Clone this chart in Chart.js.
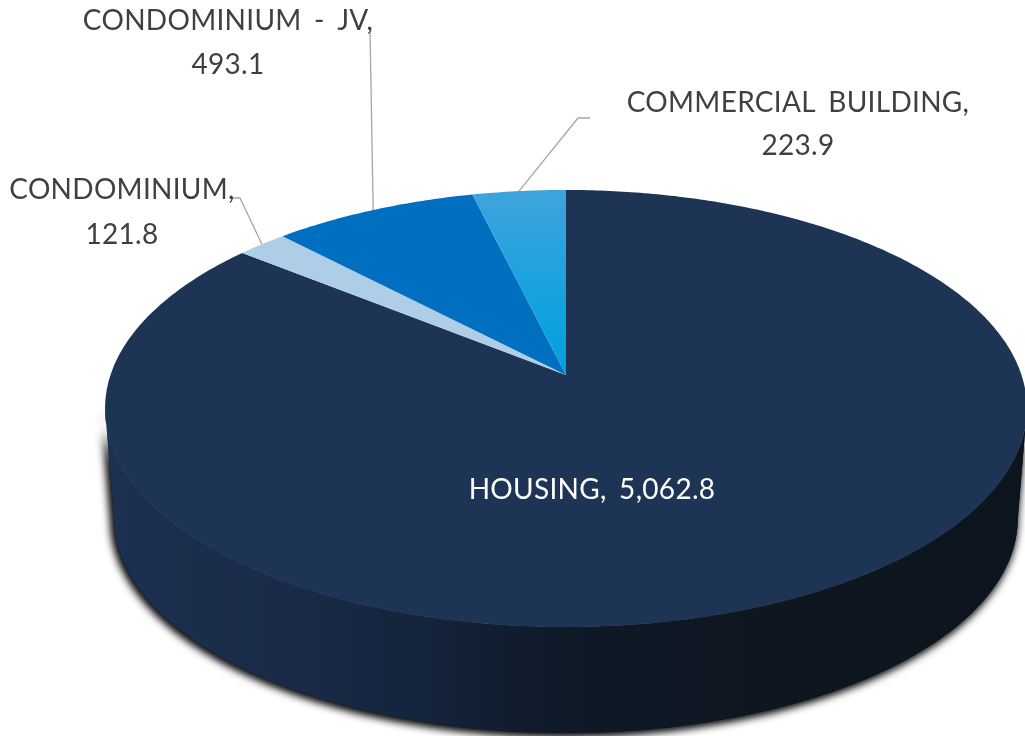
<!DOCTYPE html>
<html>
<head>
<meta charset="utf-8">
<style>
  html, body { margin: 0; padding: 0; background: #fff; overflow: hidden; }
  #wrap { width: 1025px; height: 736px; }
</style>
<script src="https://cdn.jsdelivr.net/npm/chart.js@4"></script>
</head>
<body>
<div id="wrap"><canvas id="chart" width="1025" height="736"></canvas></div>
<script>
// ======= Data =======
const categories = ["HOUSING", "CONDOMINIUM", "CONDOMINIUM - JV", "COMMERCIAL BUILDING"];
const values = [5062.8, 121.8, 493.1, 223.9];
const valueLabels = ["5,062.8", "121.8", "493.1", "223.9"];
const sliceColors = ["#1e3455", "#aecde6", "#006fc0", "#2fa3dc"];

// ======= Tilted disc: unit circle -> screen =======
const apexX = 566, apexY = 375;
const radX = 455.5, radY = 213.4, tilt = -0.1533;
const wallScale = 0.98, wallApexY = 486;

function project(angle, scale, cy) {
  const u = Math.cos(angle), v = Math.sin(angle);
  const d = 1 + tilt * v;
  return { x: apexX + scale * radX * u / d, y: cy + scale * radY * v / d };
}

function sideWall(ctx) {
  const grad = ctx.createLinearGradient(105, 0, 1027, 0);
  grad.addColorStop(0, "#1c3050");
  grad.addColorStop(0.2, "#192b48");
  grad.addColorStop(0.36, "#14233a");
  grad.addColorStop(0.5, "#0f1927");
  grad.addColorStop(0.75, "#0e1620");
  grad.addColorStop(1, "#0c141d");

  // find left and right extremes of the outline
  const n = 360;
  let left = 0, right = 0;
  const top = [];
  for (let i = 0; i < n; i++) {
    const p = project(i / n * Math.PI * 2, 1, apexY);
    top.push(p);
    if (p.x < top[left].x) left = i;
    if (p.x > top[right].x) right = i;
  }

  ctx.save();
  ctx.beginPath();
  // front half of the top edge, then back along the front of the bottom edge
  for (let i = left; i >= right; i--) {
    const p = top[(i + n) % n];
    if (i === left) ctx.moveTo(p.x, p.y); else ctx.lineTo(p.x, p.y);
  }
  for (let i = right; i <= left; i++) {
    const p = project(i / n * Math.PI * 2, wallScale, wallApexY);
    ctx.lineTo(p.x, p.y);
  }
  ctx.closePath();
  ctx.shadowColor = "rgba(0,0,0,0.9)";
  ctx.shadowBlur = 10;
  ctx.shadowOffsetX = -2;
  ctx.shadowOffsetY = 2;
  ctx.fillStyle = grad;
  // twice, one pass leaves the shadow too faint
  ctx.fill();
  ctx.fill();
  ctx.restore();
}

function drawSlice(ctx, arc, color) {
  ctx.beginPath();
  ctx.moveTo(apexX, apexY);
  const steps = Math.max(4, Math.ceil((arc.endAngle - arc.startAngle) * 90));
  for (let i = 0; i <= steps; i++) {
    const a = arc.startAngle + (arc.endAngle - arc.startAngle) * i / steps;
    const p = project(a, 1, apexY);
    ctx.lineTo(p.x, p.y);
  }
  ctx.closePath();
  ctx.fillStyle = color;
  ctx.fill();
}

// ======= Labels (positions only, text comes from the arrays) =======
const labelSpots = [
  { lines: [[592, 499]], color: "#ffffff" },
  { lines: [[122, 199], [122, 244]], leader: [[232, 198], [240, 198]] },
  { lines: [[228, 30], [228, 74]], leader: [[370, 30]] },
  { lines: [[798, 112], [798, 155]], leader: [[590, 118], [578, 118]] }
];

function drawLabels(chart, arcs) {
  const ctx = chart.ctx;
  ctx.save();
  ctx.font = '400 28px Lato';
  ctx.letterSpacing = "0.3px";
  ctx.wordSpacing = "5px";
  ctx.textAlign = "center";
  ctx.textBaseline = "alphabetic";
  labelSpots.forEach((spot, i) => {
    if (spot.leader) {
      const mid = project((arcs[i].startAngle + arcs[i].endAngle) / 2, 1, apexY);
      ctx.beginPath();
      spot.leader.forEach((pt, j) => {
        if (j === 0) ctx.moveTo(pt[0], pt[1]); else ctx.lineTo(pt[0], pt[1]);
      });
      ctx.lineTo(mid.x, mid.y);
      ctx.strokeStyle = "#a6a6a6";
      ctx.lineWidth = 1.3;
      ctx.stroke();
    }
    ctx.fillStyle = spot.color || "#404040";
    if (spot.lines.length === 1) {
      ctx.fillText(categories[i] + ", " + valueLabels[i], spot.lines[0][0], spot.lines[0][1]);
    } else {
      ctx.fillText(categories[i] + ",", spot.lines[0][0], spot.lines[0][1]);
      ctx.fillText(valueLabels[i], spot.lines[1][0], spot.lines[1][1]);
    }
  });
  ctx.restore();
}

// ======= Chart =======
const tiltedPie = {
  id: "tiltedPie",
  beforeDatasetsDraw(chart) {
    const ctx = chart.ctx;
    const arcs = chart.getDatasetMeta(0).data;
    sideWall(ctx);
    arcs.forEach((arc, i) => {
      let color = sliceColors[i];
      if (i === 3) {
        const g = ctx.createLinearGradient(0, 190, 0, 375);
        g.addColorStop(0, "#3fa3dc");
        g.addColorStop(0.6, "#14a2df");
        g.addColorStop(1, "#00a0e0");
        color = g;
      }
      drawSlice(ctx, arc, color);
    });
    drawLabels(chart, arcs);
    return false; // the disc replaces the flat pie
  }
};

new Chart(document.getElementById("chart"), {
  type: "pie",
  data: {
    labels: categories,
    datasets: [{ data: values, backgroundColor: sliceColors, borderWidth: 0 }]
  },
  options: {
    responsive: false,
    animation: false,
    plugins: { legend: { display: false }, tooltip: { enabled: false } }
  },
  plugins: [tiltedPie]
});
</script>
</body>
</html>
